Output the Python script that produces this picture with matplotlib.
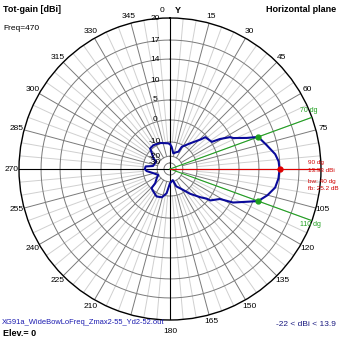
import numpy as np
import matplotlib
matplotlib.use("Agg")
import matplotlib.pyplot as plt
from matplotlib.transforms import ScaledTranslation

# gain pattern, horizontal plane (deg clockwise from Y, dBi)
angles = [0, 4, 12, 20, 26, 28, 38, 46, 48, 57, 59, 62, 64, 68, 70, 76, 82, 86, 90,
          95, 100, 105, 110, 114, 118, 121, 128, 129, 133, 141, 150, 160, 166, 180,
          188, 196, 206, 216, 224, 226, 235, 243, 256, 265, 270, 276, 280, 298, 303,
          311, 316, 325, 339, 356]
gain = [-11.5, -13.3, -17.8, -16.5, -15.5, -11.3, -7.5, -3.0, -0.7, 0.2, 2.3, 4.7, 5.4,
        8.5, 10.93, 12.0, 13.3, 13.8, 13.93, 13.8, 13.4, 12.3, 10.93, 8.0, 5.6, 2.3,
        0.5, -0.9, -3.5, -7.8, -12.7, -16.0, -22.0, -19.0, -11.8, -8.9, -8.4, -9.5,
        -10.3, -14.5, -17.6, -19.8, -16.9, -12.5, -11.3, -11.8, -16.9, -17.9, -15.1,
        -12.1, -9.3, -9.1, -9.6, -10.9]
max_dir = 90
max_gain = 13.93
bw_dirs = [70, 110]
bw_gain = 10.93

ring_levels = [20, 17, 14, 10, 5, 0, -10, -20, -30]
ring_labels = ["20", "17", "14", "10", "5", "0", "-10", "-20", "-30"]
# 90 is taken by the marker text, 195 is hidden under the file name
dir_labels = [a for a in range(15, 360, 15) if a not in (90, 180, 195)]

# log-like radial scale of the plot
SCALE_DB = [-40, -30, -20, -10, 0, 5, 10, 14, 17, 20, 30]
SCALE_FR = [0, 0.04, 0.085, 0.179, 0.325, 0.457, 0.589, 0.728, 0.854, 1.0, 1.487]


def fwd(d):
    return np.interp(d, SCALE_DB, SCALE_FR)


def inv(f):
    return np.interp(f, SCALE_FR, SCALE_DB)


plt.rcParams['font.family'] = ['Liberation Sans', 'DejaVu Sans']
fig = plt.figure(figsize=(3.39, 3.39), dpi=100)
ax = fig.add_axes([19 / 339, 19 / 339, 302 / 339, 302 / 339], projection='polar')
ax.set_theta_zero_location('N')
ax.set_theta_direction(-1)
ax.set_rscale('function', functions=(fwd, inv))
ax.set_rlim(-40, 20)
ax.set_xticks([])
ax.set_yticks([])
ax.grid(False)
ax.spines['polar'].set_color('black')
ax.spines['polar'].set_linewidth(1.0)

full = np.linspace(0, 2 * np.pi, 721)
for lev in ring_levels[1:]:
    ax.plot(full, np.full_like(full, lev), color='#7a7a7a', lw=0.7, zorder=1)

for a in range(0, 360, 5):
    t = np.deg2rad(a)
    if a % 90 == 0:
        continue
    if a % 15 == 0:
        ax.plot([t, t], [-20, 20], color='#7a7a7a', lw=0.7, zorder=1)
    else:
        ax.plot([t, t], [-10, 20], color='#d0d0d0', lw=0.7, zorder=0.5)
for a in [0, 90, 180, 270]:
    t = np.deg2rad(a)
    ax.plot([t, t], [-40, 20], color='black', lw=0.8, zorder=2)

# beamwidth and max lines
for a in bw_dirs:
    t = np.deg2rad(a)
    ax.plot([t, t], [-40, 20], color='#20a020', lw=0.8, zorder=3)
ax.plot([np.deg2rad(max_dir)] * 2, [-40, 20], color='#e00000', lw=0.8, zorder=3)

th = np.deg2rad(angles + [angles[0]])
ax.plot(th, gain + [gain[0]], color='#0a0a9a', lw=1.5, zorder=4)
ax.plot(np.deg2rad(bw_dirs), [bw_gain] * 2, 'o', color='#20a020', ms=3.5, zorder=5)
ax.plot([np.deg2rad(max_dir)], [max_gain], 'o', color='#e00000', ms=3.5, zorder=5)

# direction labels
for a in dir_labels:
    ax.text(np.deg2rad(a), 21.0, str(a), ha='center', va='center', fontsize=6,
            clip_on=False)
ax.text(np.pi, 21.6, "180", ha='center', va='center', fontsize=6, clip_on=False)
ax.text(np.deg2rad(-2.8), 21.0, "0", ha='center', va='center', fontsize=6, clip_on=False)
ax.text(np.deg2rad(3.0), 21.1, "Y", ha='center', va='center', fontsize=6.5,
        fontweight='bold', clip_on=False)

# ring labels
off = ax.transData + ScaledTranslation(-0.15, 0, fig.dpi_scale_trans)
for lev, lab in zip(ring_levels, ring_labels):
    ax.text(0, lev, lab, ha='center', va='center', fontsize=6, transform=off,
            zorder=6)

# annotations
def ftext(x, y, s, **kw):
    fig.text(x / 339, 1 - y / 339, s, va='center', **kw)

ftext(3, 9, "Tot-gain [dBi]", fontsize=6.5, fontweight='bold')
ftext(336, 9, "Horizontal plane", fontsize=6.5, fontweight='bold', ha='right')
ftext(3, 28, "Freq=470", fontsize=6)
ftext(2, 323, "XG91a_WideBowLoFreq_Zmax2-55_Yd2-52.out", fontsize=5.4, color='#1a1ab0')
ftext(3, 334, "Elev.= 0", fontsize=6.5, fontweight='bold')
ftext(336, 324, "-22 < dBi < 13.9", fontsize=6, color='#1a1a80', ha='right')

red = '#d00000'
ftext(308, 162, "90 dg", fontsize=4.6, color=red)
ftext(308, 171, "13.93 dBi", fontsize=4.6, color=red)
ftext(308, 181, "bw: 40 dg", fontsize=4.6, color=red)
ftext(308, 189, "fb: 25.2 dB", fontsize=4.6, color=red)
ftext(300, 110, "70 dg", fontsize=5, color='#20a020')
ftext(300, 224, "110 dg", fontsize=5, color='#20a020')

fig.savefig("out.png", dpi=100)
